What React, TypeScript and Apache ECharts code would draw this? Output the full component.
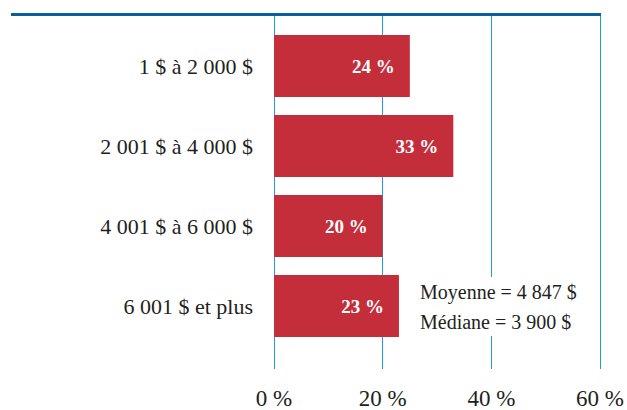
import React, { useEffect, useRef } from "react";
import * as echarts from "echarts";

const categories = ["1 $ à 2 000 $", "2 001 $ à 4 000 $", "4 001 $ à 6 000 $", "6 001 $ et plus"];
const values = [25, 33, 20, 23];
const valueLabels = ["24 %", "33 %", "20 %", "23 %"];
const xTicks = [0, 20, 40, 60];
const noteLines = ["Moyenne = 4 847 $", "Médiane = 3 900 $"];

const FONT = "Liberation Serif";
const GRID_BLUE = "#1a9fd8";

export default function App() {
  const ref = useRef<HTMLDivElement>(null);
  useEffect(() => {
    if (!ref.current) return;
    const chart = echarts.init(ref.current, undefined, { renderer: "svg" });
    chart.setOption({
      animation: false,
      backgroundColor: "#ffffff",
      grid: [
        { left: 274, right: 27, top: 15, bottom: 33 },
        { left: 274, right: 27, top: 26, bottom: 64 },
      ],
      xAxis: [
        {
          gridIndex: 0,
          type: "value",
          min: 0,
          max: 60,
          interval: 20,
          axisLine: { show: false },
          axisTick: { show: false },
          splitLine: { show: true, lineStyle: { color: GRID_BLUE, width: 1 } },
          axisLabel: {
            margin: 18,
            fontFamily: FONT,
            fontSize: 23,
            color: "#231f20",
            formatter: (v: number) => (xTicks.includes(v) ? `${v} %` : ""),
          },
        },
        {
          gridIndex: 1,
          type: "value",
          min: 0,
          max: 60,
          show: false,
        },
      ],
      yAxis: [
        { gridIndex: 0, type: "value", show: false },
        {
          gridIndex: 1,
          type: "category",
          inverse: true,
          data: categories,
          axisLine: { show: false },
          axisTick: { show: false },
          axisLabel: {
            margin: 21,
            fontFamily: FONT,
            fontSize: 22,
            color: "#231f20",
          },
        },
      ],
      series: [
        {
          type: "bar",
          xAxisIndex: 1,
          yAxisIndex: 1,
          data: values,
          barWidth: 62,
          itemStyle: { color: "#c42e3b" },
          label: {
            show: true,
            position: "insideRight",
            distance: 15,
            color: "#ffffff",
            fontFamily: FONT,
            fontSize: 19,
            fontWeight: "bold",
            formatter: (p: any) => valueLabels[p.dataIndex],
          },
        },
      ],
      graphic: [
        {
          type: "rect",
          shape: { x: 11, y: 13, width: 590, height: 3 },
          style: { fill: "#0b5d9c" },
          z: 10,
        },
        {
          type: "rect",
          shape: { x: 412, y: 277, width: 172, height: 59 },
          style: { fill: "#ffffff" },
          z: 10,
        },
        {
          type: "text",
          x: 420,
          y: 307,
          z: 11,
          style: {
            text: noteLines.join("\n"),
            fontFamily: FONT,
            fontSize: 20,
            lineHeight: 30,
            fill: "#231f20",
            verticalAlign: "middle",
            align: "left",
          },
        },
      ],
    });
    return () => chart.dispose();
  }, []);
  return <div ref={ref} style={{ width: 627, height: 410, position: "absolute", left: 0, top: 0 }} />;
}
